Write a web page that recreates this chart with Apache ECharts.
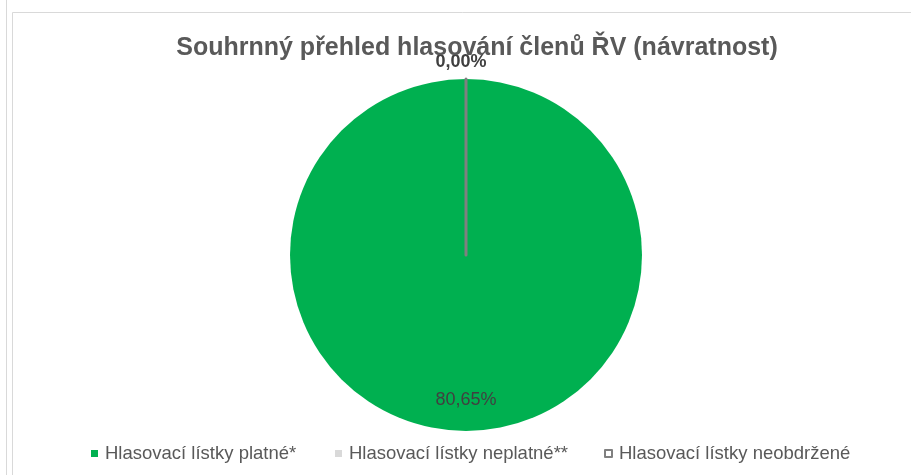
<!DOCTYPE html>
<html>
<head>
<meta charset="utf-8">
<script src="https://cdn.jsdelivr.net/npm/echarts@6/dist/echarts.min.js"></script>
<style>
html,body{margin:0;padding:0;background:#fff;}
#chart{width:911px;height:475px;}
</style>
</head>
<body>
<div id="chart"></div>
<script>
// Data
var titleText = 'Souhrnný přehled hlasování členů ŘV (návratnost)';
var categories = ['Hlasovací lístky platné*', 'Hlasovací lístky neplatné**', 'Hlasovací lístky neobdržené'];
var values = [80.65, 0, 0];
var valueLabels = ['80,65%', '0,00%', '0,00%'];
var showLabel = [true, false, true];

var colors = ['#00b050', '#d9d9d9', '#ffffff'];
var borders = [null, null, '#808080'];
var legendLeft = [91, 335, 604];

var FONT = 'Liberation Sans, Arial, sans-serif';
var chart = echarts.init(document.getElementById('chart'));
var data = categories.map(function (c, i) {
  var it = {
    name: c,
    value: values[i],
    itemStyle: { color: colors[i] },
    label: { show: showLabel[i] }
  };
  if (borders[i]) {
    it.itemStyle.borderColor = borders[i];
    it.itemStyle.borderWidth = 3;
  }
  if (i === 0) {
    it.label.position = 'inside';
    it.label.fontWeight = 'normal';
  } else {
    it.label.position = 'outside';
    it.label.fontWeight = 'bold';
  }
  return it;
});

var legends = categories.map(function (c, i) {
  return {
    top: 444,
    left: legendLeft[i],
    itemWidth: 7,
    itemHeight: 7,
    icon: 'rect',
    padding: 0,
    textStyle: {
      fontFamily: FONT,
      fontSize: 18.5,
      color: '#595959',
      padding: [0, 0, 0, 2]
    },
    data: [c]
  };
});

chart.setOption({
  animation: false,
  backgroundColor: '#ffffff',
  title: {
    text: titleText,
    left: 472,
    textAlign: 'center',
    top: 31,
    textStyle: {
      fontFamily: FONT,
      fontSize: 25,
      fontWeight: 'bold',
      color: '#595959'
    }
  },
  legend: legends,
  graphic: [
    { type: 'line', shape: { x1: 6.5, y1: 0, x2: 6.5, y2: 475 }, style: { stroke: '#d9d9d9', lineWidth: 1 } },
    { type: 'rect', shape: { x: 12.5, y: 12.5, width: 1000, height: 1000 }, style: { fill: null, stroke: '#d9d9d9', lineWidth: 1 } }
  ],
  series: [{
    type: 'pie',
    center: [466, 255],
    radius: [0, 176],
    startAngle: 90,
    clockwise: true,
    avoidLabelOverlap: false,
    stillShowZeroSum: true,
    label: {
      formatter: function (p) { return valueLabels[p.dataIndex]; },
      fontFamily: FONT,
      fontSize: 18,
      color: '#404040'
    },
    labelLine: { show: false, length: 3, length2: 0 },
    labelLayout: function (p) {
      if (p.dataIndex === 0) { return { dy: 54 }; }
      return { align: 'center', verticalAlign: 'bottom', dy: -5 };
    },
    emphasis: { disabled: true },
    data: data
  }]
});
</script>
</body>
</html>
